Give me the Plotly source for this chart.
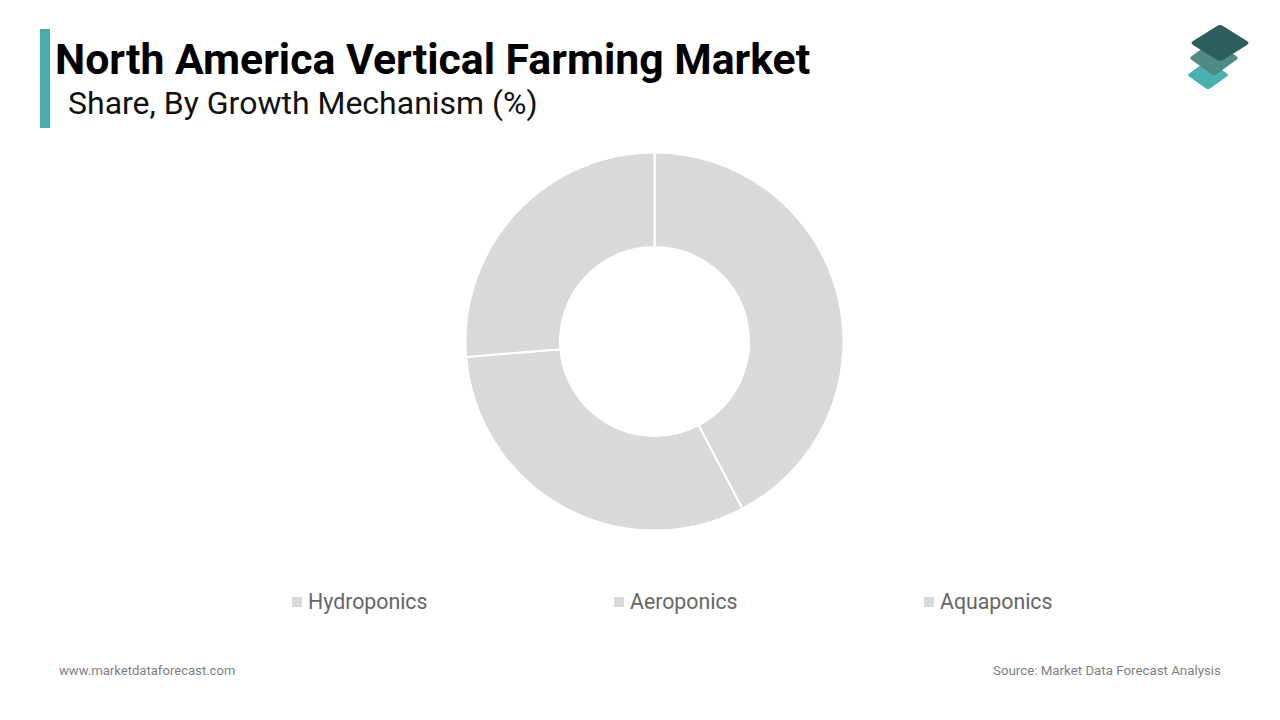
import plotly.graph_objects as go

categories = ["Hydroponics", "Aeroponics", "Aquaponics"]
shares = [42.3, 31.4, 26.3]
slice_colors = ["#d9d9d9", "#d9d9d9", "#d9d9d9"]

W, H = 1280, 720


def px(x):
    return x / W


def py(y):
    return 1 - y / H


def note(x, y, text, size, color, anchor="left", weight=None):
    fig.add_annotation(
        x=px(x), y=py(y), xref="paper", yref="paper", text=text, showarrow=False,
        xanchor=anchor, yanchor="middle",
        font=dict(family="Roboto", size=size, color=color, weight=weight),
    )


def diamond(cx, cy, rx, ry, color):
    # rhombus with slightly rounded corners
    t = 0.1
    corners = [(cx, cy - ry), (cx + rx, cy), (cx, cy + ry), (cx - rx, cy)]
    path = ""
    for i, (x, y) in enumerate(corners):
        prev_x, prev_y = corners[i - 1]
        next_x, next_y = corners[(i + 1) % 4]
        ax, ay = x + (prev_x - x) * t, y + (prev_y - y) * t
        bx, by = x + (next_x - x) * t, y + (next_y - y) * t
        path += f"{'M' if i == 0 else 'L'} {px(ax)} {py(ay)} Q {px(x)} {py(y)} {px(bx)} {py(by)} "
    fig.add_shape(type="path", path=path + "Z", xref="paper", yref="paper", fillcolor=color,
                  line_width=0, layer="above")


fig = go.Figure()

fig.add_trace(
    go.Pie(
        labels=categories,
        values=shares,
        hole=0.5,
        sort=False,
        direction="clockwise",
        rotation=0,
        textinfo="none",
        showlegend=False,
        marker=dict(colors=slice_colors, line=dict(color="white", width=2)),
        domain=dict(x=[px(465.5), px(843.5)], y=[py(530.5), py(152.5)]),
    )
)

# accent bar + titles
fig.add_shape(type="rect", xref="paper", yref="paper", x0=px(40), x1=px(50), y0=py(128), y1=py(29),
              fillcolor="#4aabab", line_width=0)
note(52.5, 59, "North America Vertical Farming Market", 42.75, "#000000", weight="bold")
note(65.5, 103, "Share, By Growth Mechanism (%)", 32, "#111111")

# logo
diamond(1208, 75, 21, 15, "#4bb0b0")
diamond(1214, 58, 25, 18, "#4f8a86")
diamond(1220, 43, 30, 19, "#2f5f5d")

# legend
legend_x = [292, 614, 924]
for name, x, color in zip(categories, legend_x, slice_colors):
    fig.add_shape(type="rect", xref="paper", yref="paper", x0=px(x), x1=px(x + 10), y0=py(607), y1=py(597),
                  fillcolor=color, line_width=0)
    note(x + 14, 601, name, 21.3, "#666666")

# footer
note(57, 670, "www.marketdataforecast.com", 13.1, "#7f7f7f")
note(1223, 670, "Source: Market Data Forecast Analysis", 13.3, "#7f7f7f", anchor="right")

fig.update_layout(
    width=W,
    height=H,
    margin=dict(l=0, r=0, t=0, b=0),
    paper_bgcolor="white",
    plot_bgcolor="white",
)

# the page's default body margin would push everything by 8px
fig.write_html(
    "out.html",
    config={"displayModeBar": False},
    post_script="document.body.style.margin = '0';",
)
